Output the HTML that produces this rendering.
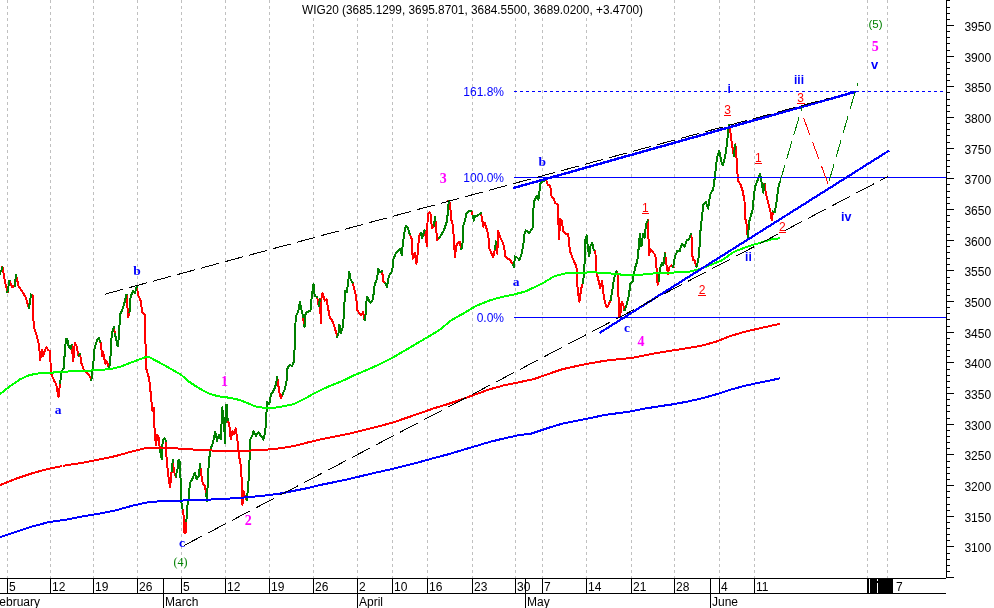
<!DOCTYPE html>
<html lang="en"><head><meta charset="utf-8"><title>WIG20</title>
<style>
html,body{margin:0;padding:0;background:#fff;}
body{width:994px;height:608px;overflow:hidden;}
svg{display:block;}
text{font-family:"Liberation Sans",Arial,sans-serif;font-size:12px;fill:#000;}
.ser{font-family:"Liberation Serif","Times New Roman",serif;}
.b{font-weight:bold;}
.blue{fill:#0000ff;}.mag{fill:#ff00ff;}.grn{fill:#008000;}.red{fill:#ff0000;}
.u{text-decoration:underline;}
</style></head><body>
<svg width="994" height="608" viewBox="0 0 994 608">
<rect width="994" height="608" fill="#fff"/>
<path d="M7.5 0V578M50.5 0V578M93.5 0V578M137.5 0V578M181.5 0V578M225.5 0V578M269.5 0V578M313.5 0V578M357.5 0V578M392.5 0V578M427.5 0V578M472.5 0V578M515.5 0V578M542.5 0V578M586.5 0V578M631.5 0V578M674.5 0V578M719.5 0V578M754.5 0V578M867.5 0V578M887.5 0V578" stroke="#c0c0c0" stroke-width="1" stroke-dasharray="3 3" fill="none" shape-rendering="crispEdges"/>
<g fill="none" stroke-width="2" stroke-linejoin="round" stroke-linecap="square" shape-rendering="crispEdges">
<path d="M2.5 267.3 5 282 7.4 292M9.4 281 12.3 287 14.8 286M16 274.7 18.5 286 22 291 26 298 27 302 29 308M31 294.5 33 296 33.3 319 34.5 329 37 336.5 39 345 40.2 360 42 350 43.2 356 45 350 46.4 347 48 350 50 351 51 373.5 54.3 381 56.3 384.6 58.5 397 60 383.4M71.6 345 73.3 361 74.8 342.7 76.5 346 78.5 356M80 354 81.5 363.6 84 370 86.4 372 89.4 376 91.4 379.7M100.4 341.6 102.3 356.4 103 351.4 105.3 363.8 106.8 361.3 109.2 368.7M113.9 327.2 115 334M126.5 294.7 128.2 316.9 129.5 312M136.9 286 138 294.7 140.6 300.8 142.3 312 144.8 314.4 145.5 344 146.3 368.7 148 374.9 149.2 378.6 151.2 398.3 152.2 410.6 153.7 408 154.8 434.5 156 445.6 157.3 434.5 158.5 437 159.7 448.1M165.9 440.7 166.6 459.2 168.4 476.5 170.1 487.6 171.6 471.5M172.8 460.4 174 471.5 175.8 476.5M182.4 508.6 183.7 516 184.4 532.5 185.6 532.5 186.4 520.9M200 463.7 201.2 474 202.9 483.9 204.6 485.1 206.1 493.8M227.6 419.7 229.3 424.7 230.8 439.5 232.5 430.8 234.3 434.5 235.7 428.4 237.5 440.7 238.7 451.8 239.9 461.7 241.2 466.6 242.4 504.9 243.6 491.3 244.9 496.2 246.6 499.9M277.2 377.2 278.4 385.8 279.7 394.5 280.9 398.2 282.6 394.5M303.1 316.7 303.9 325.4M317.2 297 318.7 305.6M319.9 299.5 320.9 322.9 321.6 294.5 322.9 293.3 324.8 300.7 326.6 299.5 328.3 309.3 329.8 318 332 320.4 334 325.4 335.9 331.6 337.2 337M352.5 282.7 354.2 288.4 356.2 297 357.4 310.6 359.1 313 361.1 315.5 363.1 311.8 364.3 319.2M382.1 271.1 383.3 281 385.3 283.4M409.7 234.2 411.7 239.1 412.7 258.8 414.7 252.7 416.4 263.8 417.6 253.9 419.1 236.6 420.8 232.9M424.5 230.4 425.8 237 427 246.5 427.7 214.4 429.5 211.9 430.7 214.4 431.9 228 433.9 225.5M435.2 216.9 436.1 229.2 437.4 240.3 439.3 237.9M448.7 200.8 450 203.3 451.2 219.3 452.9 225.5 454.2 244 454.9 257.6 456.1 246.5 457.9 242.8 459.6 241.6 461.1 249M471.4 210.7 472.7 215.6M480.8 213.2 481.8 216.9 483.3 226.7 485 223 486.7 229.2 488.2 234.1 489.4 249 491.2 252.7 493.1 257.6 494.9 249M496.1 241.6 497.3 253.9 498.1 230.4 499.8 236.6 502.3 241.6 504 246.5 505.5 256.4 507.9 258.8 510.4 260.1 512.9 265M546 179.2 547.8 184.7 550.2 185.9 551.7 197 553.4 198.2 555.4 203.2 557.6 204.4 559.1 239 560.1 219.2 561.6 220.4 563.3 231.6 565.8 234 568.2 234 570 251.3 572.4 257.5 574.4 262.4 576.4 266.1 577.6 288.3 579.3 301.9 581.3 288.3 582.6 283.4M593.7 250.1 595.4 251.3 596.1 271 598.6 280.9 600.3 288.3 602 280.9 604 298 606.4 307 608.1 306 610.6 300M616.5 271.5 617.8 276.5 619.2 316.5 620.4 314 621.7 301.7 623.7 306.6 624.6 310.3M647.9 220.4 648.4 236.5 649.2 255 650.2 248.8 652.1 251.3 655.3 255 656.6 268.6 657.6 284.6 658.8 280.9M665 253.5 666.2 263 667.9 273.8 669.6 267 671.4 265 673.2 267.3M690.9 234 692 240 692.6 259.5 694.5 260.5 696.5 266.6M728.7 124.8 730.4 132.2 731.7 142.1 733.7 155.6M735.4 144.5 736.6 159.3 737.9 180.3 740.3 184 742.8 191.4 744.5 201.3 745.3 218.6 747 226 747.7 238.3M764.5 184 766.2 195.1 768.7 205 770.7 212.4 771.7 220.5 773.1 211.5" stroke="#ff0000"/>
<path d="M0 273.5 2.5 267.3M7.4 292 9.4 281M14.8 286 16 274.7M29 308 31 294.5M60 383.4 61.7 371 63.7 368.5 64.7 353.8 66 339 67.2 339 68.6 346 70.4 349 71.6 345M78.5 356 80 354M91.4 379.7 93.3 363.6 94.6 347.6 97.5 339 98.6 337.9 100.4 341.6M109.2 368.7 111 351.4 111.7 334 113.9 327.2M115 334 117.6 346.5 119 336.6 120 314.4 122 310.7 124 304.5 126.5 294.7M129.5 312 130.7 296 133.2 291 135 293.4 136.9 286M159.7 448.1 161.7 459.2 162.7 440.7 164.7 438.2 165.9 440.7M171.6 471.5 172.8 460.4M175.8 476.5 177.5 469 178.2 460.4 179.5 460.4 180.7 481.4 181.2 501.2 182.4 508.6M186.4 520.9 187.4 506 188.6 498.7 190 482.7 192.3 479 194.8 472.8 196.7 479 198.7 476.5 200 463.7M206.1 493.8 207.1 501.2 207.8 479 209.1 459.2 210.8 448.1 212.8 443.2 215.3 432.1 217 440.7 219 434.5 220.9 439.5 222.2 407.4 223.9 419.7 225.1 443.2 225.9 405 226.9 405 227.6 419.7M246.6 499.9 247.8 491.3 249 474 250.3 439.5 252.3 435.8 253.5 430.8 256 435.8 258.4 432.1 260.9 435.8 263.4 439.5 265.3 432.1 266.3 414.8 267.3 402 269.3 404.3 271 394.5 273.5 390.8 275.2 387.1 277.2 377.2M282.6 394.5 285.1 388.3 286.6 380.9 287.6 367.3 290 364.9 292 366 294 361.2 295 339 295.7 316.7 298.2 311.8 299.9 301.9 301.9 311.8 303.1 316.7M303.9 325.4 304.8 326.6 305.6 313 308 311.8 310.5 310.6 311.7 297 313.5 284.2 314.7 295.8 317.2 297M318.7 305.6 319.9 299.5M337.2 337 338.4 334 339.4 324.6 340.9 332.8 342.6 327.9 343.8 316.7 345.1 290.8 346.8 292 348.3 281 349.2 271.8 350.7 279.7 352.5 282.7M364.3 319.2 365.3 320.4 366 303.2 367.3 297 369 300.7 370.5 303.2 372.9 299.5 374.7 284.7 377.1 278.5 378.4 268.6 380.3 272.3 382.1 271.1M385.3 283.4 387 287.1 388.2 278.5 390.2 273.6 392.2 271.2 393.5 259 396.2 252.7 399.9 249 401.8 255.1 402.8 244 404.3 232.9 406 225.5 407.8 228 409.7 234.2M420.8 232.9 422.1 237.9 424.5 230.4M433.9 225.5 435.2 216.9M439.3 237.9 441.8 234.1 444.3 229.2 446.7 221.8 448 211.9 448.7 200.8M461.1 249 462.3 247.7 463.3 225.5 465.3 219.3 466.5 213.2 469 210.7 471.4 210.7M472.7 215.6 473.9 220.6 475.1 215.6 477.6 215.6 480.8 213.2M494.9 249 496.1 241.6M512.9 265 514.1 267.5 514.8 256.4 517.1 257.6 519.5 260.1 521.3 255.1 523.2 245.3 524.5 234.1 525.7 230.4 529.4 232.9 532.6 228 533.8 202.1 536.8 195.9 538.5 199.6 540.4 183.4 543.6 181 546 179.2M582.6 283.4 583.8 276 584.8 258.7 585.5 239 586.7 235.3 588 248.8 589.2 256.2 590.4 246.4 592.2 242.7 593.7 250.1M610.6 300 612.5 289 614.1 278 616.5 271.5M624.6 310.3 626.6 305 628.9 295 630.5 283.3 632.6 282 633.8 274 635.6 266.1 637.3 261.2 639.1 243.9 639.8 234 641.5 246.4 643 234 644.7 237.7 646 224.1 647.9 220.4M658.8 280.9 660 268.6 662 263 663.3 265 665 253.5M673.2 267.3 675 256.5 677.2 251 679.5 251.5 682 243.5 684.5 246.5 687 240 689 239.3 690.9 234M696.5 266.6 698.2 261 699.5 246.9 700.7 227.5 702 216.5 703.3 204.5 705.7 202 708.2 208.7 710 195.1 713.2 189 714.9 176.6 716.9 158.1 719.3 150.7 721.3 161.8 723 165.5 725.5 154.4 727.2 142.1 728.7 124.8M733.7 155.6 735.4 144.5M747.7 238.3 749.4 221 750.9 216 752.7 209 753.9 196.4 755.1 186.5 757.6 180.3 760.1 174.2 761.8 184 763.3 192.7 764.5 184M773.1 211.5 774.9 212 776.6 201.3 778.1 189 779.6 183" stroke="#008000"/>
</g>
<g fill="none" stroke-width="2" stroke-linejoin="round" shape-rendering="crispEdges">
<polyline points="-2,538 0,537.1 16.4,531.8 32.9,526.3 49.3,522 65.8,519.7 82.2,516.4 98.7,513.8 115.1,510.5 131.6,505.9 148,502.2 164.5,500.9 180.9,500.6 200,499.9 214,499.4 238.7,498 263.4,495.7 280,493.6 294,490.8 308,488 322,484.6 336,481.8 350,478.8 364,475.4 378,472.1 392,469 405.8,465.6 419.8,462 433.8,458.1 447.8,454.4 461.8,450.2 475.7,446.1 489.7,441.9 503.7,438.5 517.7,435.4 531.2,433.6 548,428 562,423.8 575.9,421 589.9,418.2 603.8,415.1 617.8,413.2 631.8,411.2 645.8,408.4 659.7,406.2 673.7,404.2 687.7,401.5 701.7,398.4 715.6,394.5 729.6,390 743.6,386.1 757.6,383 771.5,380.2 779.9,378.3" stroke="#0000ff"/>
<polyline points="-2,486 0,485.1 16.4,478.6 32.9,473 49.3,468.7 65.8,465.4 82.2,462.8 98.7,459.5 115.1,456.2 131.6,451.6 144.7,448.3 157.9,447.6 171,448 189.3,449.3 214,450.6 238.7,451 263.4,450 280,448.3 294,446.1 308,442.4 322,439.1 336,436.3 350,433.5 364,430.1 378,426.5 392,422.8 405.8,418.1 419.8,413.3 433.8,408.3 447.8,404.1 461.8,399.4 475.7,394.3 489.7,389.3 503.7,385.4 517.7,382.5 534,379.1 548,374.1 562,369.3 575.9,366.2 589.9,363.4 603.8,360.9 617.8,359.3 631.8,357.9 645.8,355.1 659.7,352.5 673.7,350.3 687.7,348.1 701.7,345.6 715.6,341.9 729.6,336.3 743.6,332.1 757.6,328.8 771.5,325.7 779.9,323.8" stroke="#ff0000"/>
<polyline points="-2,395.5 0,394 9.9,386.4 19.7,379.5 29.6,375 39.5,373.3 49.4,372.8 65.8,371.6 88.8,370.7 109.7,369.2 119.6,367 134.4,361.3 145.5,357.1 149.2,357.1 154.6,360 164,365 181.3,374.9 188.7,381.5 198.6,388 208.4,393.4 218.3,396.3 228.2,397.6 240,400 255,406.3 267.3,408.5 280,407 294,404 304.3,398.9 316.7,392 329,386.3 341.4,381.4 353.7,375.5 366,370.3 378.4,364.9 390.7,358.7 405,350.5 419.8,341.7 433.8,333.4 439.4,330 451.7,320 464,313.1 476.4,305.7 488.7,300.8 501,297.1 513.4,294.6 525.7,291.4 542.3,283.4 554.7,276 567,273 579.3,272.8 591.7,272.3 604,272.8 616.4,274 628.7,275.5 641,274.7 653.4,273.5 665.7,272.8 680,272.3 689.6,271.6 699.5,269.1 709.3,265.4 721.7,260.4 734,251.8 746.4,246.9 758.7,243.2 771,239.5 779.7,238.2" stroke="#00ff00"/>
</g>
<rect x="62" y="465" width="1" height="4" fill="#fff" shape-rendering="crispEdges"/>
<g fill="none" stroke="#0000ff" stroke-width="1" shape-rendering="crispEdges">
<path d="M514 91.5H946" stroke-dasharray="3 3"/>
<path d="M514 177.5H946"/>
<path d="M514 317.5H946"/>
</g>
<g fill="none" stroke="#0000ff" stroke-linecap="butt" shape-rendering="crispEdges">
<path d="M513 188.15L856 91.65" stroke-width="2.45"/>
<path d="M599.3 333.1L889.2 150.5" stroke-width="2.2"/>
</g>
<path d="M105 294.2L123 289.3M129 287.7L147 282.8M153 281.2L171 276.3M177 274.7L195 269.8M201 268.2L219 263.3M225 261.7L243 256.8M249 255.2L267 250.4M273 248.7L291 243.9M297 242.2L315 237.4M321 235.7L339 230.9M345 229.2L363 224.4M369 222.7L387 217.9M393 216.2L411 211.4M417 209.7L435 204.9M441 203.3L459 198.4M465 196.8L483 191.9M489 190.3L507 185.4M513 183.8L531 178.9M537 177.3L555 172.4M561 170.8L579 165.9M585 164.3L603 159.4M609 157.8L627 152.9M633 151.3L651 146.4M657 144.8L675 139.9M681 138.3L699 133.4M705 131.8L723 126.9M729 125.3L747 120.4M753 118.8L771 113.9M777 112.3L795 107.4M801 105.8L819 100.9M825 99.3L830 98" stroke="#000" stroke-width="1" fill="none" shape-rendering="crispEdges"/>
<path d="M184 545.5L202 536.1M208 533L226 523.5M232 520.4L250 510.9M256 507.8L274 498.4M280 495.2L298 485.8M304 482.6L322 473.2M328 470.1L346 460.6M352 457.5L370 448M376 444.9L394 435.4M400 432.3L418 422.9M424 419.7L442 410.3M448 407.1L466 397.7M472 394.6L490 385.1M496 382L514 372.5M520 369.4L538 359.9M544 356.8L562 347.4M568 344.2L586 334.8M592 331.6L610 322.2M616 319.1L634 309.6M640 306.5L658 297M664 293.9L682 284.4M688 281.3L706 271.9M712 268.7L730 259.3M736 256.1L754 246.7M760 243.6L778 234.1M784 231L802 221.5M808 218.4L826 208.9M832 205.8L850 196.4M856 193.2L874 183.8M880 180.6L887.7 176.6" stroke="#000" stroke-width="1" fill="none" shape-rendering="crispEdges"/>
<path d="M779.6 183L784.9 165M786.7 159L792 141M793.8 135L799.1 117M800.9 111L802.2 106.5" stroke="#008000" stroke-width="1" fill="none" shape-rendering="crispEdges"/>
<path d="M828 183.6L821.3 165.6M819.1 159.6L812.4 141.6M810.1 135.6L803.5 117.6M801.2 111.6L801 111" stroke="#ff0000" stroke-width="1" fill="none" shape-rendering="crispEdges"/>
<path d="M829 181.5L834.2 163.5M836 157.5L841.2 139.5M843 133.5L848.2 115.5M850 109.5L855.2 91.5M857 85.5L857.7 83" stroke="#008000" stroke-width="1" fill="none" shape-rendering="crispEdges"/>
<g fill="none" stroke="#000" stroke-width="1" shape-rendering="crispEdges">
<path d="M946.5 0V578"/>
<path d="M946 577.5H954M946 571.5H950M946 565.5H950M946 559.5H950M946 553.5H950M946 546.5H954M946 540.5H950M946 534.5H950M946 528.5H950M946 522.5H950M946 516.5H954M946 510.5H950M946 504.5H950M946 497.5H950M946 491.5H950M946 485.5H954M946 479.5H950M946 473.5H950M946 467.5H950M946 461.5H950M946 454.5H954M946 448.5H950M946 442.5H950M946 436.5H950M946 430.5H950M946 424.5H954M946 418.5H950M946 411.5H950M946 405.5H950M946 399.5H950M946 393.5H954M946 387.5H950M946 381.5H950M946 375.5H950M946 369.5H950M946 362.5H954M946 356.5H950M946 350.5H950M946 344.5H950M946 338.5H950M946 332.5H954M946 326.5H950M946 319.5H950M946 313.5H950M946 307.5H950M946 301.5H954M946 295.5H950M946 289.5H950M946 283.5H950M946 277.5H950M946 270.5H954M946 264.5H950M946 258.5H950M946 252.5H950M946 246.5H950M946 240.5H954M946 234.5H950M946 227.5H950M946 221.5H950M946 215.5H950M946 209.5H954M946 203.5H950M946 197.5H950M946 191.5H950M946 184.5H950M946 178.5H954M946 172.5H950M946 166.5H950M946 160.5H950M946 154.5H950M946 148.5H954M946 142.5H950M946 135.5H950M946 129.5H950M946 123.5H950M946 117.5H954M946 111.5H950M946 105.5H950M946 99.5H950M946 92.5H950M946 86.5H954M946 80.5H950M946 74.5H950M946 68.5H950M946 62.5H950M946 56.5H954M946 50.5H950M946 43.5H950M946 37.5H950M946 31.5H950M946 25.5H954M946 19.5H950M946 13.5H950M946 7.5H950M946 0.5H950"/>
<path d="M0 578.5H946 M0 593.5H946"/>
<path d="M7.5 578V593M50.5 578V593M93.5 578V593M137.5 578V593M181.5 578V593M225.5 578V593M269.5 578V593M313.5 578V593M357.5 578V593M392.5 578V593M427.5 578V593M472.5 578V593M515.5 578V593M542.5 578V593M586.5 578V593M631.5 578V593M674.5 578V593M719.5 578V593M754.5 578V593"/>
<path d="M163.5 578V608M357.5 578V608M525.5 578V608M710.5 578V608"/>
</g>
<rect x="867" y="578" width="26" height="16" fill="#000" shape-rendering="crispEdges"/>
<path d="M869.5 579V593M877.5 579V581M877.5 583V593" stroke="#fff" stroke-width="1" fill="none" shape-rendering="crispEdges"/>
<text x="964.4" y="552.4">3100</text>
<text x="964.4" y="521.7">3150</text>
<text x="964.4" y="491">3200</text>
<text x="964.4" y="460.3">3250</text>
<text x="964.4" y="429.6">3300</text>
<text x="964.4" y="399">3350</text>
<text x="964.4" y="368.3">3400</text>
<text x="964.4" y="337.6">3450</text>
<text x="964.4" y="306.9">3500</text>
<text x="964.4" y="276.3">3550</text>
<text x="964.4" y="245.6">3600</text>
<text x="964.4" y="214.9">3650</text>
<text x="964.4" y="184.2">3700</text>
<text x="964.4" y="153.6">3750</text>
<text x="964.4" y="122.9">3800</text>
<text x="964.4" y="92.2">3850</text>
<text x="964.4" y="61.5">3900</text>
<text x="964.4" y="30.9">3950</text>
<text x="9" y="591">5</text>
<text x="52" y="591">12</text>
<text x="95" y="591">19</text>
<text x="139" y="591">26</text>
<text x="183" y="591">5</text>
<text x="227" y="591">12</text>
<text x="271" y="591">19</text>
<text x="315" y="591">26</text>
<text x="359" y="591">2</text>
<text x="394" y="591">10</text>
<text x="429" y="591">16</text>
<text x="474" y="591">23</text>
<text x="517" y="591">30</text>
<text x="544" y="591">7</text>
<text x="588" y="591">14</text>
<text x="633" y="591">21</text>
<text x="676" y="591">28</text>
<text x="721" y="591">4</text>
<text x="756" y="591">11</text>
<text x="896" y="591">7</text>
<path d="M525.5 578V608" stroke="#000" stroke-width="1" fill="none" shape-rendering="crispEdges"/>
<text x="-8" y="606">February</text>
<text x="165" y="606">March</text>
<text x="359" y="606">April</text>
<text x="527" y="606">May</text>
<text x="712" y="606">June</text>
<rect x="300" y="0" width="346" height="16" fill="#fff"/>
<text x="302" y="14" textLength="341" lengthAdjust="spacingAndGlyphs">WIG20 (3685.1299, 3695.8701, 3684.5500, 3689.0200, +3.4700)</text>
<text class="blue" x="504" y="95.8" text-anchor="end">161.8%</text>
<text class="blue" x="504" y="181.8" text-anchor="end">100.0%</text>
<text class="blue" x="504" y="321.8" text-anchor="end">0.0%</text>
<text class="ser b blue" x="58.2" y="413.7" text-anchor="middle" style="font-size:13.5px">a</text>
<text class="ser b blue" x="137" y="275.1" text-anchor="middle" style="font-size:13.5px">b</text>
<text class="ser b blue" x="182" y="547.1" text-anchor="middle" style="font-size:13.5px">c</text>
<text class="ser b blue" x="516" y="285.5" text-anchor="middle" style="font-size:13.5px">a</text>
<text class="ser b blue" x="542.3" y="165.5" text-anchor="middle" style="font-size:13.5px">b</text>
<text class="ser b blue" x="627" y="332" text-anchor="middle" style="font-size:13.5px">c</text>
<text class="ser b mag" x="224.5" y="385.5" text-anchor="middle" style="font-size:14px">1</text>
<text class="ser b mag" x="248.2" y="525.3" text-anchor="middle" style="font-size:14px">2</text>
<text class="ser b mag" x="443.2" y="182.8" text-anchor="middle" style="font-size:14px">3</text>
<text class="ser b mag" x="641" y="345.6" text-anchor="middle" style="font-size:14px">4</text>
<text class="ser b mag" x="875.2" y="51" text-anchor="middle" style="font-size:14px">5</text>
<text class="red" x="645.3" y="211.8" text-anchor="middle" style="font-size:12px">1</text>
<path d="M641.5 213.5H649.1" stroke="#ff0000" stroke-width="1" fill="none" shape-rendering="crispEdges"/>
<text class="red" x="702" y="293.8" text-anchor="middle" style="font-size:12px">2</text>
<path d="M698.2 295.5H705.8" stroke="#ff0000" stroke-width="1" fill="none" shape-rendering="crispEdges"/>
<text class="red" x="727.6" y="113.7" text-anchor="middle" style="font-size:12px">3</text>
<path d="M723.8 115.5H731.4" stroke="#ff0000" stroke-width="1" fill="none" shape-rendering="crispEdges"/>
<text class="red" x="758.4" y="162.3" text-anchor="middle" style="font-size:12px">1</text>
<path d="M754.6 163.5H762.2" stroke="#ff0000" stroke-width="1" fill="none" shape-rendering="crispEdges"/>
<text class="red" x="782.4" y="230.9" text-anchor="middle" style="font-size:12px">2</text>
<path d="M778.6 232.5H786.2" stroke="#ff0000" stroke-width="1" fill="none" shape-rendering="crispEdges"/>
<text class="red" x="800.7" y="101.7" text-anchor="middle" style="font-size:12px">3</text>
<path d="M796.9 103.5H804.5" stroke="#ff0000" stroke-width="1" fill="none" shape-rendering="crispEdges"/>
<text class="b blue" x="729.2" y="93.2" text-anchor="middle" style="font-size:12px">i</text>
<text class="b blue" x="748.4" y="261.2" text-anchor="middle" style="font-size:12px">ii</text>
<text class="b blue" x="799" y="83.8" text-anchor="middle" style="font-size:12px">iii</text>
<text class="b blue" x="846.3" y="220.8" text-anchor="middle" style="font-size:12.5px">iv</text>
<text class="b blue" x="874.5" y="68.8" text-anchor="middle" style="font-size:13px">v</text>
<text class="ser grn" x="180.5" y="566" text-anchor="middle" style="font-size:12px">(4)</text>
<text class="grn" x="875.5" y="27.8" text-anchor="middle" style="font-size:11.5px">(5)</text>
</svg>
</body></html>
